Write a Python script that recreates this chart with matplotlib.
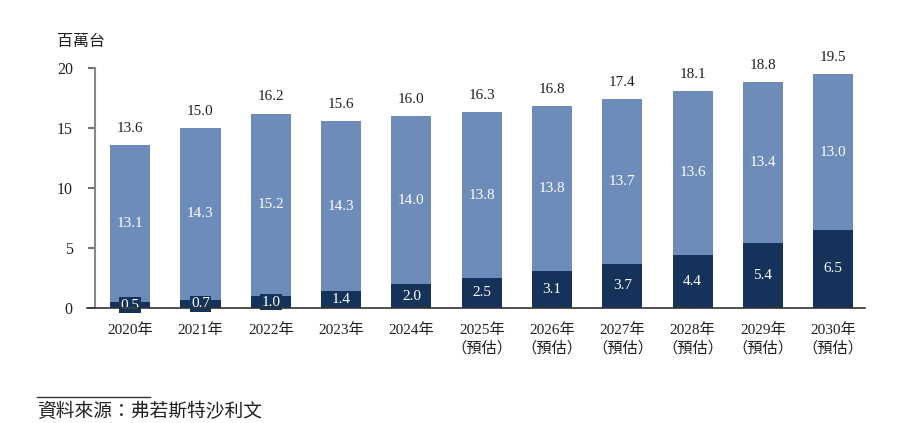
import matplotlib
matplotlib.use("Agg")
import matplotlib.pyplot as plt
import numpy as np

plt.rcParams['font.family'] = ['Liberation Serif', 'Noto Sans CJK TC', 'DejaVu Sans']

years = ["2020年", "2021年", "2022年", "2023年", "2024年", "2025年\n（預估）", "2026年\n（預估）",
         "2027年\n（預估）", "2028年\n（預估）", "2029年\n（預估）", "2030年\n（預估）"]
bottom_vals = [0.5, 0.7, 1.0, 1.4, 2.0, 2.5, 3.1, 3.7, 4.4, 5.4, 6.5]
top_vals = [13.1, 14.3, 15.2, 14.3, 14.0, 13.8, 13.8, 13.7, 13.6, 13.4, 13.0]
totals = [13.6, 15.0, 16.2, 15.6, 16.0, 16.3, 16.8, 17.4, 18.1, 18.8, 19.5]
yticks = [0, 5, 10, 15, 20]
unit_label = "百萬台"
source = "資料來源：弗若斯特沙利文"

dark = "#15325B"
light = "#6E8CB9"
txt = "#231F20"

fig = plt.figure(figsize=(9.03, 4.23), dpi=100)
ax = fig.add_axes([95/903, 115/423, (865-95)/903, 240/423])

x = np.arange(len(years))
w = 0.57
upper = [t - b for t, b in zip(totals, bottom_vals)]
ax.bar(x, bottom_vals, width=w, color=dark, zorder=2)
ax.bar(x, upper, bottom=bottom_vals, width=w, color=light, zorder=2)

for xi, b, tv, tot in zip(x, bottom_vals, top_vals, totals):
    ax.text(xi, b / 2, f"{b:.1f}", ha="center", va="center", color="white", fontsize=11,
            zorder=4, bbox=dict(facecolor=dark, edgecolor="none", pad=1.0))
    ax.text(xi, b + (tot - b) / 2, f"{tv:.1f}", ha="center", va="center", color="white",
            fontsize=11, zorder=4)
    ax.annotate(f"{tot:.1f}", (xi, tot), xytext=(0, 12), textcoords="offset points",
                ha="center", va="center", color=txt, fontsize=11)

ax.set_xlim(-0.5, 10.45)
ax.set_ylim(0, 20)
ax.set_yticks(yticks)
ax.set_yticklabels([str(v) for v in yticks])
ax.set_xticks(x)
ax.set_xticklabels(years, fontsize=11, color=txt, linespacing=1.35, va="top")
ax.tick_params(axis="x", length=0, pad=11)
ax.tick_params(axis="y", length=5, width=1.2, color="#555555", pad=11, labelsize=11.5, labelcolor=txt)
for s in ["top", "right"]:
    ax.spines[s].set_visible(False)
ax.spines["left"].set_color("#888888")
ax.spines["left"].set_linewidth(1.5)
ax.spines["bottom"].set_visible(False)
ax.plot([-0.01, 1.0], [0, 0], transform=ax.transAxes, color="#333333", lw=1.2, clip_on=False, zorder=5)

fig.text(81/903, 1 - 42/423, unit_label, ha="center", va="center", fontsize=11.5, color=txt)

fig.add_artist(plt.Line2D([37/903, 150/903], [1 - 397/423, 1 - 397/423], color="#333333", lw=1.0))
fig.text(37/903, 1 - 412/423, source, ha="left", va="center", fontsize=13.5, color=txt)

fig.savefig("out.png", dpi=100)
